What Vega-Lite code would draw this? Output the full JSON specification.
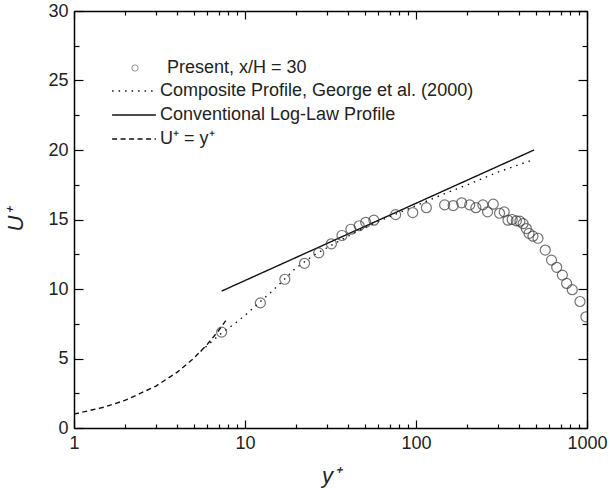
{
  "$schema": "https://vega.github.io/schema/vega-lite/v6.json",
  "width": 513,
  "height": 417,
  "autosize": {"type": "none"},
  "padding": {"left": 74, "top": 11, "right": 23, "bottom": 62},
  "background": "white",
  "config": {
    "view": {"stroke": null},
    "font": "Liberation Sans",
    "axis": {
      "domainColor": "#000",
      "domainWidth": 1.5,
      "tickColor": "#000",
      "tickWidth": 1.2,
      "grid": false,
      "labelFont": "Liberation Sans",
      "labelFontSize": 18,
      "labelColor": "#222",
      "labelFlush": false,
      "labelOverlap": false,
      "titleFont": "Liberation Sans",
      "titleFontSize": 22,
      "titleFontStyle": "italic",
      "titleFontWeight": "normal",
      "titleColor": "#222"
    },
    "legend": {
      "labelFont": "Liberation Sans",
      "labelFontSize": 18,
      "labelColor": "#222",
      "labelLimit": 0,
      "padding": 0
    }
  },
  "datasets": {
    "pts": [
      {"y": 7.3, "u": 6.9, "series": "Present, x/H = 30"},
      {"y": 12.3, "u": 9.0, "series": "Present, x/H = 30"},
      {"y": 17.1, "u": 10.7, "series": "Present, x/H = 30"},
      {"y": 22.3, "u": 11.85, "series": "Present, x/H = 30"},
      {"y": 27, "u": 12.6, "series": "Present, x/H = 30"},
      {"y": 32, "u": 13.25, "series": "Present, x/H = 30"},
      {"y": 36.9, "u": 13.85, "series": "Present, x/H = 30"},
      {"y": 41.6, "u": 14.3, "series": "Present, x/H = 30"},
      {"y": 46.5, "u": 14.55, "series": "Present, x/H = 30"},
      {"y": 50.8, "u": 14.8, "series": "Present, x/H = 30"},
      {"y": 56.7, "u": 14.95, "series": "Present, x/H = 30"},
      {"y": 76, "u": 15.35, "series": "Present, x/H = 30"},
      {"y": 95.7, "u": 15.5, "series": "Present, x/H = 30"},
      {"y": 115, "u": 15.85, "series": "Present, x/H = 30"},
      {"y": 147, "u": 16.05, "series": "Present, x/H = 30"},
      {"y": 165, "u": 16.0, "series": "Present, x/H = 30"},
      {"y": 185, "u": 16.2, "series": "Present, x/H = 30"},
      {"y": 206, "u": 16.05, "series": "Present, x/H = 30"},
      {"y": 224, "u": 15.85, "series": "Present, x/H = 30"},
      {"y": 246, "u": 16.05, "series": "Present, x/H = 30"},
      {"y": 262, "u": 15.55, "series": "Present, x/H = 30"},
      {"y": 283, "u": 16.1, "series": "Present, x/H = 30"},
      {"y": 308, "u": 15.45, "series": "Present, x/H = 30"},
      {"y": 328, "u": 15.55, "series": "Present, x/H = 30"},
      {"y": 345, "u": 14.95, "series": "Present, x/H = 30"},
      {"y": 365, "u": 15.0, "series": "Present, x/H = 30"},
      {"y": 386, "u": 14.9, "series": "Present, x/H = 30"},
      {"y": 405, "u": 14.88, "series": "Present, x/H = 30"},
      {"y": 423, "u": 14.7, "series": "Present, x/H = 30"},
      {"y": 442, "u": 14.35, "series": "Present, x/H = 30"},
      {"y": 458, "u": 14.0, "series": "Present, x/H = 30"},
      {"y": 483, "u": 13.8, "series": "Present, x/H = 30"},
      {"y": 517, "u": 13.65, "series": "Present, x/H = 30"},
      {"y": 570, "u": 12.8, "series": "Present, x/H = 30"},
      {"y": 620, "u": 12.08, "series": "Present, x/H = 30"},
      {"y": 665, "u": 11.56, "series": "Present, x/H = 30"},
      {"y": 718, "u": 11.0, "series": "Present, x/H = 30"},
      {"y": 760, "u": 10.4, "series": "Present, x/H = 30"},
      {"y": 820, "u": 9.95, "series": "Present, x/H = 30"},
      {"y": 910, "u": 9.1, "series": "Present, x/H = 30"},
      {"y": 985, "u": 8.0, "series": "Present, x/H = 30"}
    ],
    "lines": [
      {"y": 5.5, "u": 5.5, "series": "Composite Profile, George et al. (2000)"},
      {"y": 6.5, "u": 6.3, "series": "Composite Profile, George et al. (2000)"},
      {"y": 7.5, "u": 6.95, "series": "Composite Profile, George et al. (2000)"},
      {"y": 8.7, "u": 7.5, "series": "Composite Profile, George et al. (2000)"},
      {"y": 10, "u": 8.1, "series": "Composite Profile, George et al. (2000)"},
      {"y": 12.3, "u": 9.1, "series": "Composite Profile, George et al. (2000)"},
      {"y": 14.3, "u": 9.8, "series": "Composite Profile, George et al. (2000)"},
      {"y": 17, "u": 10.7, "series": "Composite Profile, George et al. (2000)"},
      {"y": 19.6, "u": 11.45, "series": "Composite Profile, George et al. (2000)"},
      {"y": 25, "u": 12.4, "series": "Composite Profile, George et al. (2000)"},
      {"y": 30, "u": 12.95, "series": "Composite Profile, George et al. (2000)"},
      {"y": 40, "u": 13.8, "series": "Composite Profile, George et al. (2000)"},
      {"y": 50, "u": 14.4, "series": "Composite Profile, George et al. (2000)"},
      {"y": 60, "u": 14.85, "series": "Composite Profile, George et al. (2000)"},
      {"y": 80, "u": 15.5, "series": "Composite Profile, George et al. (2000)"},
      {"y": 100, "u": 16.0, "series": "Composite Profile, George et al. (2000)"},
      {"y": 143, "u": 16.8, "series": "Composite Profile, George et al. (2000)"},
      {"y": 200, "u": 17.5, "series": "Composite Profile, George et al. (2000)"},
      {"y": 300, "u": 18.4, "series": "Composite Profile, George et al. (2000)"},
      {"y": 470, "u": 19.25, "series": "Composite Profile, George et al. (2000)"},
      {"y": 7.3, "u": 9.85, "series": "Conventional Log-Law Profile"},
      {"y": 490, "u": 20.0, "series": "Conventional Log-Law Profile"},
      {"y": 1, "u": 1, "series": "U⁺ = y⁺"},
      {"y": 1.5, "u": 1.5, "series": "U⁺ = y⁺"},
      {"y": 2, "u": 2, "series": "U⁺ = y⁺"},
      {"y": 3, "u": 3, "series": "U⁺ = y⁺"},
      {"y": 4, "u": 4, "series": "U⁺ = y⁺"},
      {"y": 5, "u": 5, "series": "U⁺ = y⁺"},
      {"y": 6, "u": 6, "series": "U⁺ = y⁺"},
      {"y": 7, "u": 7, "series": "U⁺ = y⁺"},
      {"y": 7.8, "u": 7.8, "series": "U⁺ = y⁺"}
    ]
  },
  "layer": [
    {
      "data": {"name": "lines"},
      "mark": {"type": "line", "color": "#111", "strokeWidth": 1.4, "clip": true},
      "encoding": {
        "x": {
          "field": "y", "type": "quantitative",
          "scale": {"type": "log", "domain": [1, 1000]},
          "axis": {
            "orient": "bottom",
            "values": [1,2,3,4,5,6,7,8,9,10,20,30,40,50,60,70,80,90,100,200,300,400,500,600,700,800,900,1000],
            "format": "d",
            "tickSize": {"condition": {"test": "datum.value==1||datum.value==10||datum.value==100||datum.value==1000", "value": -8}, "value": -4},
            "labelExpr": "(datum.value==1||datum.value==10||datum.value==100||datum.value==1000) ? datum.label : ''",
            "labelPadding": 14,
            "title": "y⁺",
            "titlePadding": 9
          }
        },
        "y": {
          "field": "u", "type": "quantitative",
          "scale": {"domain": [0, 30]},
          "axis": {
            "orient": "left",
            "values": [0,2.5,5,7.5,10,12.5,15,17.5,20,22.5,25,27.5,30],
            "tickSize": {"condition": {"test": "datum.value % 5 == 0", "value": -9}, "value": -5},
            "labelExpr": "datum.value % 5 == 0 ? datum.label : ''",
            "labelPadding": 15,
            "title": "U⁺",
            "titlePadding": 20
          }
        },
        "strokeDash": {
          "field": "series", "type": "nominal",
          "scale": {
            "domain": ["Composite Profile, George et al. (2000)", "Conventional Log-Law Profile", "U⁺ = y⁺"],
            "range": [[1.5, 5], [1, 0], [5, 3.5]]
          },
          "legend": {
            "orient": "none",
            "legendX": 48,
            "legendY": 68,
            "title": null,
            "symbolType": "M-2,0H2",
            "symbolSize": 480,
            "symbolStrokeColor": "#111",
            "symbolStrokeWidth": 1.4,
            "labelOffset": 14,
            "rowPadding": 3
          }
        }
      }
    },
    {
      "data": {"name": "pts"},
      "mark": {"type": "point", "filled": false, "size": 100, "stroke": "#3a3a3a", "strokeWidth": 1.2, "clip": true},
      "encoding": {
        "x": {
          "field": "y", "type": "quantitative",
          "axis": {
            "orient": "top",
            "values": [1,2,3,4,5,6,7,8,9,10,20,30,40,50,60,70,80,90,100,200,300,400,500,600,700,800,900,1000],
            "tickSize": {"condition": {"test": "datum.value==1||datum.value==10||datum.value==100||datum.value==1000", "value": -8}, "value": -4},
            "labels": false,
            "title": null
          }
        },
        "y": {
          "field": "u", "type": "quantitative",
          "axis": {
            "orient": "right",
            "values": [0,2.5,5,7.5,10,12.5,15,17.5,20,22.5,25,27.5,30],
            "tickSize": {"condition": {"test": "datum.value % 5 == 0", "value": -9}, "value": -5},
            "labels": false,
            "title": null
          }
        },
        "shape": {
          "field": "series", "type": "nominal",
          "scale": {"domain": ["Present, x/H = 30"], "range": ["circle"]},
          "legend": {
            "orient": "none",
            "legendX": 52,
            "legendY": 48,
            "title": null,
            "symbolSize": 40,
            "symbolFillColor": "transparent",
            "symbolStrokeColor": "#666",
            "symbolStrokeWidth": 1,
            "labelOffset": 23
          }
        }
      }
    }
  ],
  "resolve": {"axis": {"x": "independent", "y": "independent"}}
}
